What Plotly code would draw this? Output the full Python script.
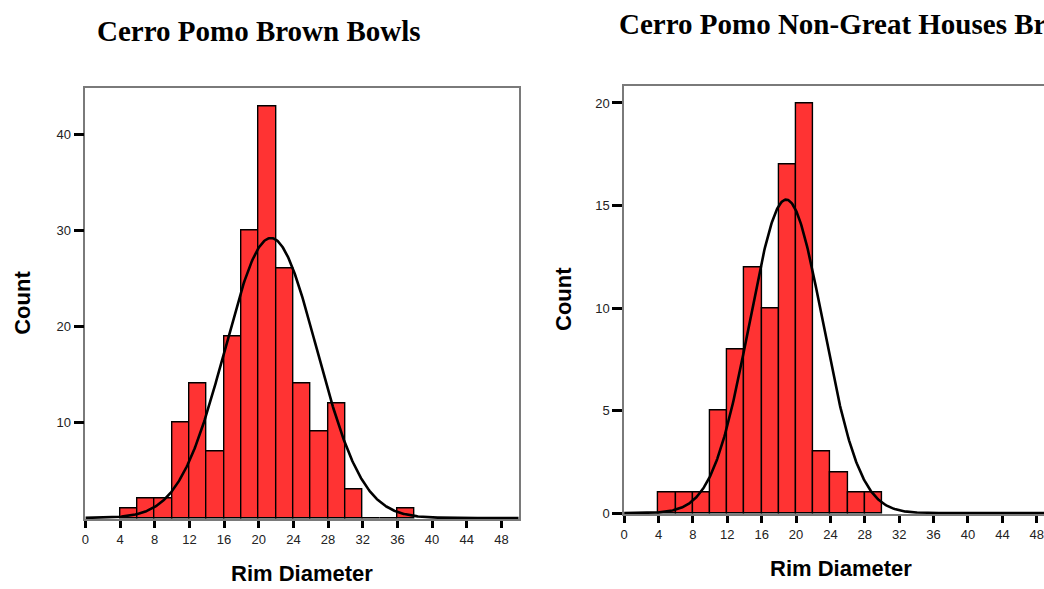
import numpy as np
import plotly.graph_objects as go

# ---- data -------------------------------------------------------------
BIN_WIDTH = 2

# Cerro Pomo Brown Bowls
bowls_bin_left = [4, 6, 8, 10, 12, 14, 16, 18, 20, 22, 24, 26, 28, 30, 32, 34, 36]
bowls_counts = [1, 2, 2, 10, 14, 7, 19, 30, 43, 26, 14, 9, 12, 3, 0, 0, 1]
bowls_mean = 21.4
bowls_sd = 5.27

# Cerro Pomo Non-Great Houses Brown Bowls
ngh_bin_left = [4, 6, 8, 10, 12, 14, 16, 18, 20, 22, 24, 26, 28]
ngh_counts = [1, 1, 1, 5, 8, 12, 10, 17, 20, 3, 2, 1, 1]
ngh_mean = 18.85
ngh_sd = 4.28

x_ticks = list(range(0, 49, 4))
bowls_y_ticks = [10, 20, 30, 40]
ngh_y_ticks = [0, 5, 10, 15, 20]

# ---- page geometry (pixels) -------------------------------------------
W, H = 1044, 589


def fx(px):
    return px / W


def fy(py):
    return 1 - py / H


BAR_FILL = "rgb(255,51,51)"
FRAME = "#7a7a7a"
SANS = "Liberation Sans, Arial, sans-serif"
SERIF = "Liberation Serif, Times New Roman, serif"


def normal_curve(counts, mean, sd, x_max):
    n = sum(counts)
    xs = np.linspace(0, x_max, 600)
    ys = n * BIN_WIDTH / (sd * np.sqrt(2 * np.pi)) * np.exp(-0.5 * ((xs - mean) / sd) ** 2)
    return xs, ys


fig = go.Figure()

# left panel
fig.add_trace(go.Bar(
    x=[b + BIN_WIDTH / 2 for b in bowls_bin_left], y=bowls_counts, width=BIN_WIDTH,
    marker=dict(color=BAR_FILL, line=dict(color="black", width=1.4)),
    xaxis="x", yaxis="y", showlegend=False, hoverinfo="skip"))
cx, cy = normal_curve(bowls_counts, bowls_mean, bowls_sd, 50)
fig.add_trace(go.Scatter(
    x=cx, y=cy, mode="lines", line=dict(color="black", width=2.6),
    xaxis="x", yaxis="y", showlegend=False, hoverinfo="skip"))

# right panel
fig.add_trace(go.Bar(
    x=[b + BIN_WIDTH / 2 for b in ngh_bin_left], y=ngh_counts, width=BIN_WIDTH,
    marker=dict(color=BAR_FILL, line=dict(color="black", width=1.4)),
    xaxis="x2", yaxis="y2", showlegend=False, hoverinfo="skip"))
R_XMAX = (W - 622.5) / 8.63
cx2, cy2 = normal_curve(ngh_counts, ngh_mean, ngh_sd, R_XMAX)
fig.add_trace(go.Scatter(
    x=cx2, y=cy2, mode="lines", line=dict(color="black", width=2.6),
    xaxis="x2", yaxis="y2", showlegend=False, hoverinfo="skip"))

# left axes: y=0 at 523.3 px, 9.68 px per count
L_UNIT, L_ZERO, L_TOP = 9.68, 523.3, 89.3
L_YMIN = -0.13
L_YMAX = (L_ZERO - L_TOP) / L_UNIT
# right axes: y=0 at 518.4 px, 20.72 px per count
R_UNIT, R_ZERO, R_TOP = 20.72, 518.4, 87.3
R_YMIN = -0.063
R_YMAX = (R_ZERO - R_TOP) / R_UNIT

tick_font = dict(family=SANS, size=13, color="#222")

common_x = dict(
    showgrid=False, zeroline=False, showline=True, linecolor=FRAME, linewidth=1.5,
    ticks="outside", ticklen=7, tickwidth=3, tickcolor="black",
    tickvals=x_ticks, tickfont=tick_font, fixedrange=True)
common_y = dict(
    showgrid=False, zeroline=False, showline=True, linecolor=FRAME, linewidth=1.5,
    ticks="outside", ticklen=10, tickwidth=3, tickcolor="black",
    tickfont=tick_font, fixedrange=True)

fig.update_layout(
    width=W, height=H,
    margin=dict(l=0, r=0, t=0, b=0),
    paper_bgcolor="white", plot_bgcolor="white",
    bargap=0,
    xaxis=dict(common_x, domain=[fx(81.7), fx(516.7)], range=[0, 50],
               anchor="y", mirror=True),
    yaxis=dict(common_y, domain=[fy(L_ZERO - L_YMIN * L_UNIT), fy(L_TOP)],
               range=[L_YMIN, L_YMAX], tickvals=bowls_y_ticks,
               anchor="x", mirror=True),
    xaxis2=dict(common_x, domain=[fx(622.5), 1.0], range=[0, R_XMAX],
                anchor="y2", mirror=True),
    yaxis2=dict(common_y, domain=[fy(R_ZERO - R_YMIN * R_UNIT), fy(R_TOP)],
                range=[R_YMIN, R_YMAX], tickvals=ngh_y_ticks,
                anchor="x2", mirror=False),
)

title_font = dict(family=SERIF, size=29, color="black")
axis_title_font = dict(family=SANS, size=22, color="black")

annotations = [
    dict(text="<b>Cerro Pomo Brown Bowls</b>", x=fx(256), y=fy(31.7),
         xanchor="center", yanchor="middle", font=title_font),
    dict(text="<b>Cerro Pomo Non-Great Houses Brown Bowls</b>", x=fx(615), y=fy(24.2),
         xanchor="left", yanchor="middle", font=title_font),
    dict(text="<b>Count</b>", x=fx(19.2), y=fy(305.8), textangle=-90,
         xanchor="center", yanchor="middle", font=axis_title_font),
    dict(text="<b>Count</b>", x=fx(561.7), y=fy(302.5), textangle=-90,
         xanchor="center", yanchor="middle", font=axis_title_font),
    dict(text="<b>Rim Diameter</b>", x=fx(299), y=fy(579.5),
         xanchor="center", yanchor="middle", font=axis_title_font),
    dict(text="<b>Rim Diameter</b>", x=fx(840), y=fy(574.2),
         xanchor="center", yanchor="middle", font=axis_title_font),
]
for a in annotations:
    a.update(xref="paper", yref="paper", showarrow=False)
fig.update_layout(annotations=annotations)

fig.write_html("out.html", config={"displayModeBar": False})
